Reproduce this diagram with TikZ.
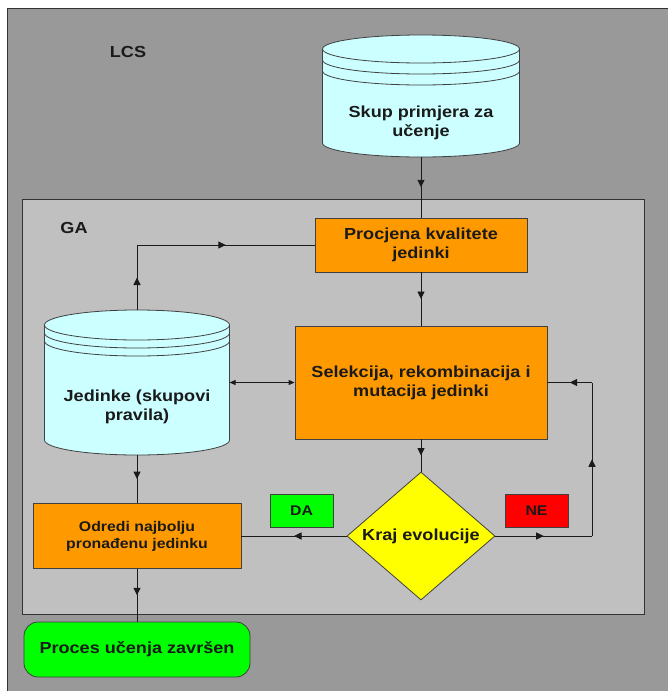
\documentclass[tikz,border=0pt]{standalone}
\usepackage{fontspec}
\setmainfont{Liberation Sans}[FakeStretch=1.13]
\usetikzlibrary{shapes.geometric,arrows.meta,decorations.markings}

\definecolor{lcsgray}{HTML}{999999}
\definecolor{gagray}{HTML}{C0C0C0}
\definecolor{frame}{HTML}{333333}
\definecolor{edge}{HTML}{404040}
\definecolor{ink}{HTML}{1A1A1A}
\definecolor{canfill}{HTML}{CCFFFF}
\definecolor{orangefill}{HTML}{FF9900}
\definecolor{yellowfill}{HTML}{FFFF00}
\definecolor{greenfill}{HTML}{00FF00}
\definecolor{redfill}{HTML}{FF0000}

\tikzset{
  txt/.style={font=\bfseries\fontsize{16}{19}\selectfont, text=ink, align=center},
  stepbox/.style={txt, draw=edge, line width=0.8pt, fill=orangefill, inner sep=0pt},
  decision/.style={txt, diamond, draw=edge, line width=0.8pt, fill=yellowfill,
    inner sep=0pt, aspect=1.16, minimum width=148pt, minimum height=128pt},
  endbox/.style={txt, draw=edge, line width=0.8pt, fill=greenfill, rounded corners=14pt,
    inner sep=0pt, minimum width=226pt, minimum height=55pt},
  tagbox/.style={txt, font=\bfseries\fontsize{14}{16}\selectfont, draw=edge, line width=0.8pt,
    inner sep=0pt, minimum width=63pt, minimum height=33pt},
  anchorbox/.style={inner sep=0pt, outer sep=0pt},
  can/.style={draw=edge, line width=0.8pt, fill=canfill},
  canline/.style={draw=edge, line width=0.8pt},
  conn/.style={draw=ink, line width=0.9pt},
  midarrow/.style={postaction={decorate}, decoration={markings,
    mark=at position #1 with {\arrow{Triangle[length=7.5pt,width=7pt]}}}},
  midarrow/.default=0.5,
}

\begin{document}
\begin{tikzpicture}[x=1pt,y=1pt]
\useasboundingbox (0,0) rectangle (668,-691);
\fill[white] (0,0) rectangle (668,-691);
\begin{scope}
  \clip (0,0) rectangle (668,-691);
  % LCS frame, running off the right and bottom edges
  \draw[draw=frame, line width=1pt, fill=lcsgray] (7,-8) rectangle (680,-705);
\end{scope}

% GA frame
\draw[draw=frame, line width=1pt, fill=gagray] (22,-199) rectangle (644,-614);

\node[txt] (lcs) at (128,-52) {LCS};
\node[txt] (ga) at (74,-228) {GA};

% training set cylinder
\draw[can] (322.5,-49) -- (322.5,-143)
  arc[start angle=180, end angle=360, x radius=98.5, y radius=14]
  -- (519.5,-49)
  arc[start angle=0, end angle=180, x radius=98.5, y radius=14] -- cycle;
\foreach \yy in {-49,-60,-71}
  \draw[canline] (322.5,\yy) arc[start angle=180, end angle=360, x radius=98.5, y radius=14];
\node[anchorbox, minimum width=197pt, minimum height=122pt] (src) at (421,-96) {};
\node[txt] (srctext) at (421,-122.5) {Skup primjera za\\učenje};

% population cylinder
\draw[can] (44.5,-325) -- (44.5,-440)
  arc[start angle=180, end angle=360, x radius=92.5, y radius=15]
  -- (229.5,-325)
  arc[start angle=0, end angle=180, x radius=92.5, y radius=15] -- cycle;
\foreach \yy in {-325,-333,-341}
  \draw[canline] (44.5,\yy) arc[start angle=180, end angle=360, x radius=92.5, y radius=15];
\node[anchorbox, minimum width=185pt, minimum height=145pt] (jed) at (137,-382.5) {};
\node[txt] (jedtext) at (137,-407) {Jedinke (skupovi\\pravila)};

% process steps
\node[stepbox, minimum width=212pt, minimum height=54pt] (proc) at (421,-245) {Procjena kvalitete\\jedinki};
\node[stepbox, minimum width=252pt, minimum height=113pt] (sel) at (421,-382.5) {Selekcija, rekombinacija i\\mutacija jedinki};
\node[decision] (dec) at (421,-536) {Kraj evolucije};
\node[stepbox, font=\bfseries\fontsize{14}{17}\selectfont, minimum width=208pt, minimum height=65pt] (odr) at (137,-536) {Odredi najbolju\\pronađenu jedinku};
\node[endbox] (done) at (137,-649.5) {Proces učenja završen};
\node[tagbox, fill=greenfill] (da) at (301.5,-510.5) {DA};
\node[tagbox, fill=redfill] (ne) at (536.5,-510.5) {NE};

% connectors
\coordinate (turn) at (137,-245);
\coordinate (loopA) at (592,-536);
\coordinate (loopB) at (592,-382.5);

\draw[conn, midarrow] (src) -- (proc);
\draw[conn, midarrow] (proc) -- (sel);
\draw[conn, midarrow] (sel) -- (dec);
\draw[conn, midarrow] (dec.east) -- (loopA);
\draw[conn, midarrow] (loopA) -- (loopB);
\draw[conn, midarrow] (loopB) -- (sel.east);
\draw[conn, midarrow] (dec.west) -- (odr.east);
\draw[conn, midarrow] (jed) -- (odr);
\draw[conn, midarrow] (odr) -- (done);
\draw[conn, midarrow] (jed.north) -- (turn);
\draw[conn, midarrow] (turn) -- (proc.west);
\draw[conn, {Triangle[length=6pt,width=5pt]}-{Triangle[length=6pt,width=5pt]}] (jed.east) -- (sel.west);
\end{tikzpicture}
\end{document}
